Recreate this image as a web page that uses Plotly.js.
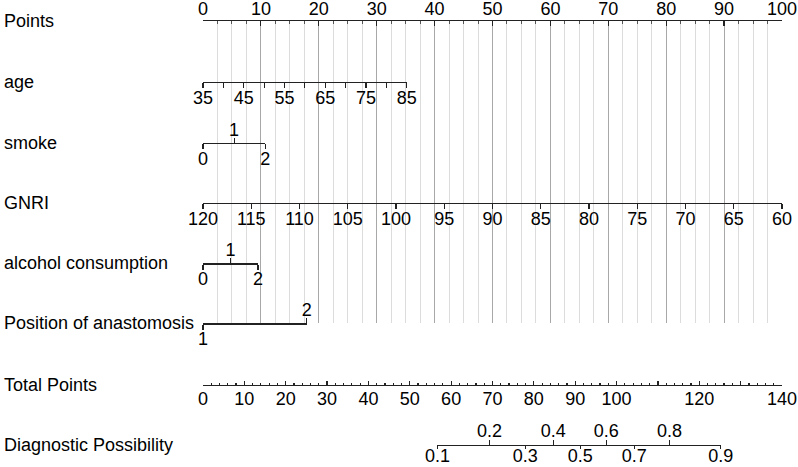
<!DOCTYPE html>
<html>
<head>
<meta charset="utf-8">
<script src="https://cdn.plot.ly/plotly-3.0.1.min.js"></script>
<style>html,body{margin:0;padding:0;background:#fff;}#chart{width:798px;height:467px;}</style>
</head>
<body>
<div id="chart"></div>
<script>
// ---------------- data ----------------
const rowNames = ['Points', 'age', 'smoke', 'GNRI', 'alcohol consumption', 'Position of anastomosis', 'Total Points', 'Diagnostic Possibility'];

const pointsTicks = [0, 10, 20, 30, 40, 50, 60, 70, 80, 90, 100];

const ageValues = [35, 40, 45, 50, 55, 60, 65, 70, 75, 80, 85];
const ageLabels = ['35', '', '45', '', '55', '', '65', '', '75', '', '85'];
const agePoints = [0, 35.2];          // points for age 35 and 85

const smokeLevels = [0, 1, 2];
const smokePoints = [0, 10.75];       // points for level 0 and 2

const gnriValues = [120, 115, 110, 105, 100, 95, 90, 85, 80, 75, 70, 65, 60];
const gnriPoints = [0, 100];          // points for GNRI 120 and 60

const alcoholLevels = [0, 1, 2];
const alcoholPoints = [0, 9.5];

const anastomosisLevels = [1, 2];
const anastomosisPoints = [0, 17.9];

const totalTicks = [0, 10, 20, 30, 40, 50, 60, 70, 80, 90, 100, 110, 120, 130, 140];
const totalLabels = ['0', '10', '20', '30', '40', '50', '60', '70', '80', '90', '100', '', '120', '', '140'];

const diagLabels = ['0.1', '0.2', '0.3', '0.4', '0.5', '0.6', '0.7', '0.8', '0.9'];
const diagTotalPoints = [56.7, 69.3, 77.9, 84.7, 91.2, 97.5, 104.3, 112.8, 125.2];

// ---------------- layout helpers ----------------
const W = 798, H = 467;
const PX0 = 203, PX1 = 782;           // pixel span of the 0..100 points scale
const rowY = [21, 81.7, 142.7, 202.7, 263.3, 323.3, 385, 444.5];
const FONT = 'Liberation Sans, Arial, sans-serif';
const FS = 18;

const ptsToPaper = p => (PX0 + p / 100 * (PX1 - PX0)) / W;
const totToPaper = t => (PX0 + t / 140 * (PX1 - PX0)) / W;
const yPaper = py => 1 - py / H;

// light grid / minor tick positions (every 2.5 points, skipping the labelled tens; every 2 total points)
const minorGrid = [];
for (let k = 1; k < 40; k++) { if (k % 4 !== 0) minorGrid.push(k * 2.5); }
const minorTotal = [];
for (let k = 1; k < 70; k++) { if (k % 5 !== 0) minorTotal.push(k * 2); }

const tickfont = {family: FONT, size: FS, color: '#000'};

function rowAxis(o) {
  const top = o.side === 'top';
  return Object.assign({
    anchor: 'free',
    showgrid: false, zeroline: false,
    showline: false, linecolor: '#222', linewidth: 1.2,
    tickmode: 'array', ticks: 'outside', ticklen: 5, tickwidth: 1.2, tickcolor: '#222',
    tickfont: tickfont, fixedrange: true, tickangle: 0,
    ticklabelstandoff: top ? -5 : -6
  }, o);
}

const layout = {
  width: W, height: H,
  margin: {l: 0, r: 0, t: 0, b: 0},
  paper_bgcolor: '#fff', plot_bgcolor: 'rgba(0,0,0,0)',
  showlegend: false,
  font: {family: FONT, size: FS, color: '#000'},
  yaxis: {domain: [yPaper(rowY[5]), yPaper(rowY[0])], range: [0, 1], visible: false, fixedrange: true},
  xaxis: {
    domain: [PX0 / W, PX1 / W], range: [0, 100], anchor: 'y', side: 'top',
    showline: true, linecolor: '#222', linewidth: 1.2, zeroline: false,
    tickmode: 'array', tickvals: pointsTicks, ticktext: pointsTicks.map(String),
    ticks: 'inside', ticklen: 5, tickwidth: 1.2, tickcolor: '#222',
    showgrid: true, gridcolor: '#a8a8a8', gridwidth: 1,
    minor: {tickmode: 'array', tickvals: minorGrid, ticks: 'inside', ticklen: 3, tickcolor: '#555', tickwidth: 1,
            showgrid: true, gridcolor: '#dcdcdc', gridwidth: 1},
    tickfont: tickfont, ticklabelstandoff: -2, fixedrange: true
  },
  annotations: rowNames.map((n, i) => ({
    text: n, xref: 'paper', yref: 'paper', x: 2 / W, y: yPaper(rowY[i]),
    xanchor: 'left', yanchor: 'middle', showarrow: false,
    font: {family: FONT, size: FS, color: '#000'}
  }))
};

// age
layout.xaxis2 = rowAxis({domain: [ptsToPaper(agePoints[0]), ptsToPaper(agePoints[1])],
  range: [ageValues[0], ageValues[ageValues.length - 1]], position: yPaper(rowY[1]), side: 'bottom',
  showline: true, tickvals: ageValues, ticktext: ageLabels});
// smoke lower / upper
layout.xaxis3 = rowAxis({domain: [ptsToPaper(smokePoints[0]), ptsToPaper(smokePoints[1])],
  range: [smokeLevels[0], smokeLevels[2]], position: yPaper(rowY[2]), side: 'bottom',
  showline: true, tickvals: [smokeLevels[0], smokeLevels[2]], ticktext: [String(smokeLevels[0]), String(smokeLevels[2])]});
layout.xaxis4 = rowAxis({domain: [ptsToPaper(smokePoints[0]), ptsToPaper(smokePoints[1])],
  range: [smokeLevels[0], smokeLevels[2]], position: yPaper(rowY[2]), side: 'top',
  tickvals: [smokeLevels[1]], ticktext: [String(smokeLevels[1])]});
// GNRI
layout.xaxis5 = rowAxis({domain: [ptsToPaper(gnriPoints[0]), ptsToPaper(gnriPoints[1])],
  range: [gnriValues[0], gnriValues[gnriValues.length - 1]], position: yPaper(rowY[3]), side: 'bottom',
  showline: true, tickvals: gnriValues, ticktext: gnriValues.map(String)});
// alcohol lower / upper
layout.xaxis6 = rowAxis({domain: [ptsToPaper(alcoholPoints[0]), ptsToPaper(alcoholPoints[1])],
  range: [alcoholLevels[0], alcoholLevels[2]], position: yPaper(rowY[4]), side: 'bottom',
  showline: true, tickvals: [alcoholLevels[0], alcoholLevels[2]], ticktext: [String(alcoholLevels[0]), String(alcoholLevels[2])]});
layout.xaxis7 = rowAxis({domain: [ptsToPaper(alcoholPoints[0]), ptsToPaper(alcoholPoints[1])],
  range: [alcoholLevels[0], alcoholLevels[2]], position: yPaper(rowY[4]), side: 'top',
  tickvals: [alcoholLevels[1]], ticktext: [String(alcoholLevels[1])]});
// anastomosis lower / upper
layout.xaxis8 = rowAxis({domain: [ptsToPaper(anastomosisPoints[0]), ptsToPaper(anastomosisPoints[1])],
  range: [anastomosisLevels[0], anastomosisLevels[1]], position: yPaper(rowY[5]), side: 'bottom',
  showline: true, tickvals: [anastomosisLevels[0]], ticktext: [String(anastomosisLevels[0])]});
layout.xaxis9 = rowAxis({domain: [ptsToPaper(anastomosisPoints[0]), ptsToPaper(anastomosisPoints[1])],
  range: [anastomosisLevels[0], anastomosisLevels[1]], position: yPaper(rowY[5]), side: 'top',
  tickvals: [anastomosisLevels[1]], ticktext: [String(anastomosisLevels[1])]});
// total points
layout.xaxis10 = rowAxis({domain: [totToPaper(0), totToPaper(140)],
  range: [0, 140], position: yPaper(rowY[6]), side: 'bottom',
  showline: true, ticks: 'inside', ticklen: 4, tickvals: totalTicks, ticktext: totalLabels,
  ticklabelstandoff: -3,
  minor: {tickmode: 'array', tickvals: minorTotal, ticks: 'inside', ticklen: 2, tickcolor: '#222', tickwidth: 1.2}});
// diagnostic possibility lower / upper
const dLo = diagTotalPoints.filter((_, i) => i % 2 === 0), dLoT = diagLabels.filter((_, i) => i % 2 === 0);
const dUp = diagTotalPoints.filter((_, i) => i % 2 === 1), dUpT = diagLabels.filter((_, i) => i % 2 === 1);
const dRange = [diagTotalPoints[0], diagTotalPoints[diagTotalPoints.length - 1]];
layout.xaxis11 = rowAxis({domain: [totToPaper(dRange[0]), totToPaper(dRange[1])],
  range: dRange, position: yPaper(rowY[7]), side: 'bottom', showline: true, tickvals: dLo, ticktext: dLoT,
  ticklen: 3, ticklabelstandoff: -8});
layout.xaxis12 = rowAxis({domain: [totToPaper(dRange[0]), totToPaper(dRange[1])],
  range: dRange, position: yPaper(rowY[7]), side: 'top', tickvals: dUp, ticktext: dUpT});

// invisible placeholder traces so that every axis belongs to a subplot
const data = [];
for (let i = 1; i <= 12; i++) {
  data.push({type: 'scatter', mode: 'markers', x: [], y: [], xaxis: i === 1 ? 'x' : 'x' + i, yaxis: 'y',
    hoverinfo: 'skip', showlegend: false});
}

Plotly.newPlot('chart', data, layout, {staticPlot: true, displayModeBar: false});
</script>
</body>
</html>
